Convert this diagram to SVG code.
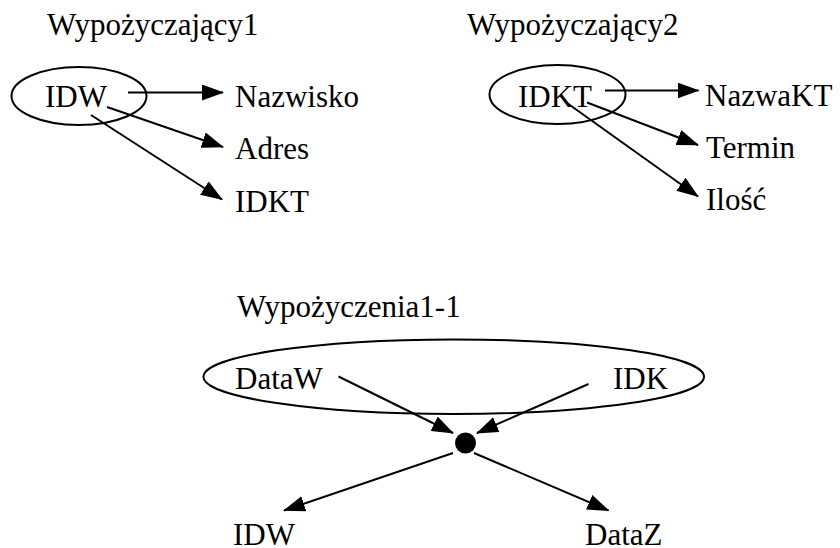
<svg xmlns="http://www.w3.org/2000/svg" width="840" height="548" viewBox="0 0 840 548">
<style>
text{font-family:"Liberation Serif",Tinos,"Times New Roman",Times,serif;font-size:31px;fill:#000}
.e{fill:none;stroke:#000;stroke-width:2}
.c line{stroke:#000;stroke-width:2}
</style>
<defs>
<marker id="a" markerUnits="userSpaceOnUse" markerWidth="22" markerHeight="16" refX="21" refY="8" orient="auto" viewBox="0 0 22 16">
<path d="M0,0 L22,8 L0,16 z" fill="#000"/>
</marker>
</defs>
<rect width="840" height="548" fill="#fff"/>
<g id="w1">
<text x="47" y="35">Wypożyczający1</text>
<ellipse class="e" cx="79" cy="96" rx="67.5" ry="29"/>
<text x="45" y="107">IDW</text>
</g>
<g id="w1-nazwisko"><text x="235" y="107">Nazwisko</text></g>
<g id="w1-adres"><text x="235" y="159">Adres</text></g>
<g id="w1-idkt"><text x="235" y="212">IDKT</text></g>
<g id="w2">
<text x="467" y="35">Wypożyczający2</text>
<ellipse class="e" cx="557.5" cy="94.5" rx="68" ry="29.5"/>
<text x="518" y="107">IDKT</text>
</g>
<g id="w2-nazwakt"><text x="705" y="106">NazwaKT</text></g>
<g id="w2-termin"><text x="706" y="158">Termin</text></g>
<g id="w2-ilosc"><text x="706" y="210">Ilość</text></g>
<g id="w3">
<text x="237" y="317">Wypożyczenia1-1</text>
<ellipse class="e" cx="453.7" cy="376.7" rx="250.3" ry="37.3"/>
<text x="235" y="389">DataW</text>
<text x="613" y="389">IDK</text>
</g>
<g id="dot"><circle cx="465.5" cy="443" r="10.5" fill="#000"/></g>
<g id="w3-idw"><text x="233" y="545">IDW</text></g>
<g id="w3-dataz"><text x="585" y="545">DataZ</text></g>
<g class="c" id="connectors">
<line x1="128" y1="92.5" x2="223" y2="92.5" marker-end="url(#a)"/>
<line x1="107" y1="107" x2="223" y2="147" marker-end="url(#a)"/>
<line x1="91" y1="115" x2="222" y2="199.5" marker-end="url(#a)"/>
<line x1="605" y1="90.5" x2="698.5" y2="90.5" marker-end="url(#a)"/>
<line x1="587" y1="102.5" x2="698" y2="145" marker-end="url(#a)"/>
<line x1="567" y1="103" x2="698" y2="196.5" marker-end="url(#a)"/>
<line x1="338.5" y1="376.5" x2="453" y2="433" marker-end="url(#a)"/>
<line x1="588.5" y1="384" x2="477" y2="433" marker-end="url(#a)"/>
<line x1="453" y1="453" x2="284" y2="510.5" marker-end="url(#a)"/>
<line x1="474" y1="453" x2="608.5" y2="510.5" marker-end="url(#a)"/>
</g>
</svg>
